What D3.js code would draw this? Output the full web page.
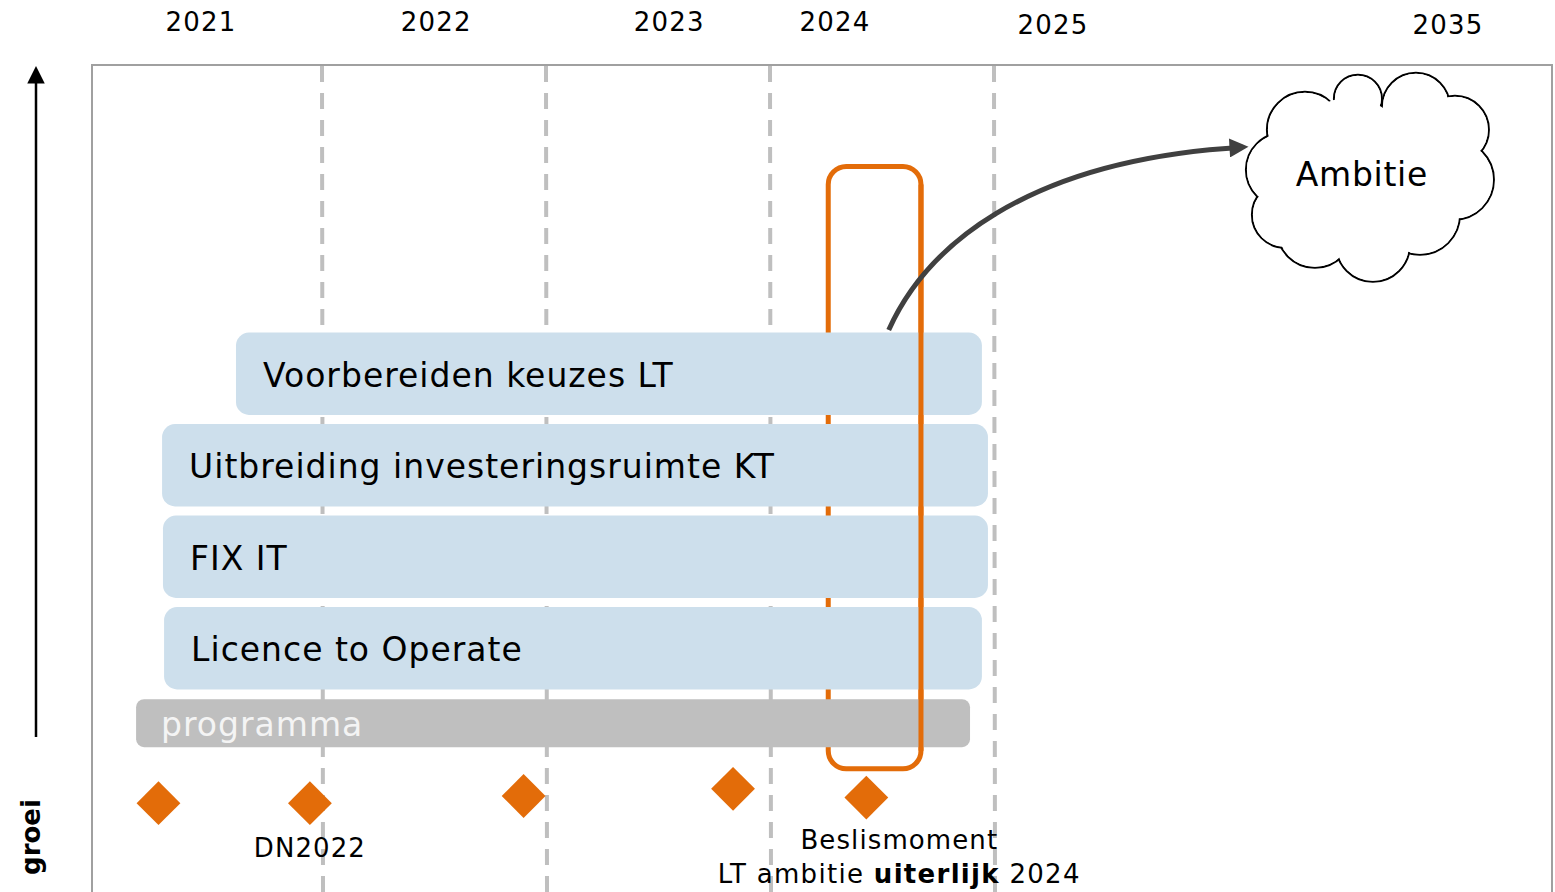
<!DOCTYPE html>
<html>
<head>
<meta charset="utf-8">
<script src="https://cdn.jsdelivr.net/npm/d3@7"></script>
<style>
  body { margin: 0; background: #fff; }
  text { font-family: "DejaVu Sans", Verdana, sans-serif; }
</style>
</head>
<body>
<div id="roadmap"></div>
<script>

// roadmap: activities on a time axis, growth upwards

const width = 1555;
const height = 892;

// year labels along the top (label position on the time axis)
const years = ["2021", "2022", "2023", "2024", "2025", "2035"];
const yearPos = [2021.46, 2022.51, 2023.55, 2024.29, 2026.3, 2035.0];

// year boundaries (dashed lines)
const boundaries = [2022, 2023, 2024, 2025];

// activities (blue bars)
const activities = ["Voorbereiden keuzes LT", "Uitbreiding investeringsruimte KT", "FIX IT", "Licence to Operate"];
const actStart = [2021.616, 2021.286, 2021.29, 2021.295];
const actEnd = [2024.946, 2024.973, 2024.973, 2024.946];

// the programma bar
const progLabel = "programma";
const progStart = 2021.17;
const progEnd = 2024.893;
const progLevels = [16.6, 22.6];

// milestones (diamonds) : time and growth level
const msTime = [2021.27, 2021.946, 2022.90, 2023.835, 2024.43];
const msLevel = [9.6, 9.6, 10.5, 11.4, 10.3];

// decision window (orange box)
const decStart = 2024.26;
const decEnd = 2024.674;
const decLevels = [13.9, 89.2];

// ambition cloud
const ambitionLabel = "Ambitie";
const ambitionTime = 2033.28;
const ambitionLevel = 87.9;

const svg = d3.select("#roadmap")
  .append("svg")
  .attr("width", width)
  .attr("height", height);

// time scale: 2021-2025 in detail, then compressed up to 2035
const x = d3.scaleLinear()
  .domain([2021, 2025, 2035])
  .range([98, 994, 1448]);

// growth scale (vertical)
const y = d3.scaleLinear()
  .domain([0, 100])
  .range([880, 80]);

// rows for the activities
const rows = d3.scaleBand()
  .domain(activities)
  .range([328, 694])
  .paddingInner(0.1)
  .paddingOuter(0.05);

const defs = svg.append("defs");
defs.append("marker")
    .attr("id", "head-dark")
    .attr("viewBox", "0 0 10 10")
    .attr("refX", 7).attr("refY", 5)
    .attr("markerWidth", 4).attr("markerHeight", 3.8)
    .attr("markerUnits", "strokeWidth")
    .attr("orient", "auto")
  .append("path")
    .attr("d", "M0,0 L10,5 L0,10 z")
    .attr("fill", "#404040");
defs.append("marker")
    .attr("id", "head-black")
    .attr("viewBox", "0 0 10 10")
    .attr("refX", 2).attr("refY", 5)
    .attr("markerWidth", 7).attr("markerHeight", 7)
    .attr("markerUnits", "strokeWidth")
    .attr("orient", "auto")
  .append("path")
    .attr("d", "M0,0 L10,5 L0,10 z")
    .attr("fill", "#000");

// frame
svg.append("rect")
  .attr("x", 92).attr("y", 65)
  .attr("width", 1460).attr("height", 900)
  .attr("fill", "none")
  .attr("stroke", "#a0a0a0")
  .attr("stroke-width", 2);

// year labels
svg.selectAll(".year")
  .data(years)
  .enter()
  .append("text")
    .attr("class", "year")
    .attr("x", (d, i) => x(yearPos[i]))
    .attr("y", (d, i) => i < 4 ? 31 : 34)
    .attr("text-anchor", "middle")
    .attr("font-size", "26px")
    .attr("letter-spacing", "1.2px")
    .attr("fill", "#000")
    .text(d => d);

// dashed year boundaries
svg.selectAll(".bound")
  .data(boundaries)
  .enter()
  .append("line")
    .attr("class", "bound")
    .attr("x1", d => x(d)).attr("x2", d => x(d) + 1)
    .attr("y1", 66).attr("y2", height)
    .attr("stroke", "#bfbfbf")
    .attr("stroke-width", 4)
    .attr("stroke-dasharray", "16,11");

// orange decision box (behind the bars)
svg.append("rect")
  .attr("x", x(decStart))
  .attr("y", y(decLevels[1]))
  .attr("width", x(decEnd) - x(decStart))
  .attr("height", y(decLevels[0]) - y(decLevels[1]))
  .attr("rx", 18)
  .attr("fill", "none")
  .attr("stroke", "#e36c09")
  .attr("stroke-width", 5);

// activity bars
svg.selectAll(".act")
  .data(activities)
  .enter()
  .append("rect")
    .attr("class", "act")
    .attr("x", (d, i) => x(actStart[i]))
    .attr("y", d => rows(d))
    .attr("width", (d, i) => x(actEnd[i]) - x(actStart[i]))
    .attr("height", rows.bandwidth())
    .attr("rx", 13)
    .attr("fill", "#cddfec");

svg.selectAll(".actlabel")
  .data(activities)
  .enter()
  .append("text")
    .attr("class", "actlabel")
    .attr("x", (d, i) => x(actStart[i]) + 27)
    .attr("y", d => rows(d) + rows.bandwidth() / 2 + 13)
    .attr("font-size", "33px")
    .attr("letter-spacing", "1px")
    .attr("fill", "#000")
    .text(d => d);

// programma bar
svg.append("rect")
  .attr("x", x(progStart))
  .attr("y", y(progLevels[1]))
  .attr("width", x(progEnd) - x(progStart))
  .attr("height", y(progLevels[0]) - y(progLevels[1]))
  .attr("rx", 8)
  .attr("fill", "#bfbfbf");

svg.append("text")
  .attr("x", x(progStart) + 25)
  .attr("y", (y(progLevels[0]) + y(progLevels[1])) / 2 + 13)
  .attr("font-size", "33px")
  .attr("letter-spacing", "1px")
  .attr("fill", "#f4f4f4")
  .text(progLabel);

// right edge of the orange box runs in front of the bars
svg.append("line")
  .attr("x1", x(decEnd)).attr("x2", x(decEnd))
  .attr("y1", y(decLevels[1]) + 18).attr("y2", y(decLevels[0]) - 18)
  .attr("stroke", "#e36c09")
  .attr("stroke-width", 5);

// curved arrow from the decision to the ambition
const arrowPts = [[2024.53, 68.75], [2024.69, 78.75], [2025.61, 90.0], [2030.48, 91.6]];
const p = arrowPts.map(d => [x(d[0]), y(d[1])]);
svg.append("path")
  .attr("d", `M${p[0]} C${p[1]} ${p[2]} ${p[3]}`)
  .attr("fill", "none")
  .attr("stroke", "#404040")
  .attr("stroke-width", 5)
  .attr("marker-end", "url(#head-dark)");

// ambition cloud: union of lobes
const cx = x(ambitionTime);
const cy = y(ambitionLevel);
const lobes = [
  [-65, -47, 38], [-12, -78, 24], [46, -70, 34], [85, -47, 34],
  [84, 3, 40], [50, 38, 40], [3, 68, 37], [-55, 53, 38],
  [-85, 38, 33], [-87, -7, 37], [0, 0, 70], [-20, -20, 60], [30, 10, 60]
];
const cloud = svg.append("g");
cloud.selectAll(".lobe-o")
  .data(lobes.filter(d => d[2] < 50))
  .enter()
  .append("circle")
    .attr("cx", d => cx + d[0]).attr("cy", d => cy + d[1]).attr("r", d => d[2])
    .attr("fill", "#fff")
    .attr("stroke", "#000")
    .attr("stroke-width", 2);
cloud.selectAll(".lobe-i")
  .data(lobes)
  .enter()
  .append("circle")
    .attr("cx", d => cx + d[0]).attr("cy", d => cy + d[1]).attr("r", d => d[2] - 1)
    .attr("fill", "#fff");
svg.append("text")
  .attr("x", cx - 8)
  .attr("y", cy + 9)
  .attr("text-anchor", "middle")
  .attr("font-size", "33px")
  .attr("letter-spacing", "0.7px")
  .attr("fill", "#000")
  .text(ambitionLabel);

// milestones
svg.selectAll(".ms")
  .data(msTime)
  .enter()
  .append("path")
    .attr("class", "ms")
    .attr("d", d3.symbol(d3.symbolSquare, 960))
    .attr("transform", (d, i) => `translate(${x(d)},${y(msLevel[i])}) rotate(45)`)
    .attr("fill", "#e36c09");

svg.append("text")
  .attr("x", x(msTime[1]))
  .attr("y", 857)
  .attr("text-anchor", "middle")
  .attr("font-size", "26px")
  .attr("letter-spacing", "1.1px")
  .text("DN2022");

svg.append("text")
  .attr("x", x(msTime[4]) + 33)
  .attr("y", 849)
  .attr("text-anchor", "middle")
  .attr("font-size", "26px")
  .attr("letter-spacing", "1.1px")
  .text("Beslismoment");

const lt = svg.append("text")
  .attr("x", x(msTime[4]) + 33)
  .attr("y", 883)
  .attr("text-anchor", "middle")
  .attr("font-size", "26px")
  .attr("letter-spacing", "1.3px");
lt.append("tspan").text("LT ambitie ");
lt.append("tspan").attr("font-weight", "bold").text("uiterlijk");
lt.append("tspan").text(" 2024");

// growth axis on the left
svg.append("line")
  .attr("x1", 36).attr("x2", 36)
  .attr("y1", 737).attr("y2", 80)
  .attr("stroke", "#000")
  .attr("stroke-width", 2.5)
  .attr("marker-end", "url(#head-black)");

svg.append("text")
  .attr("transform", "translate(40,837) rotate(-90)")
  .attr("text-anchor", "middle")
  .attr("font-size", "26px")
  .attr("font-weight", "bold")
  .text("groei");

</script>
</body>
</html>
